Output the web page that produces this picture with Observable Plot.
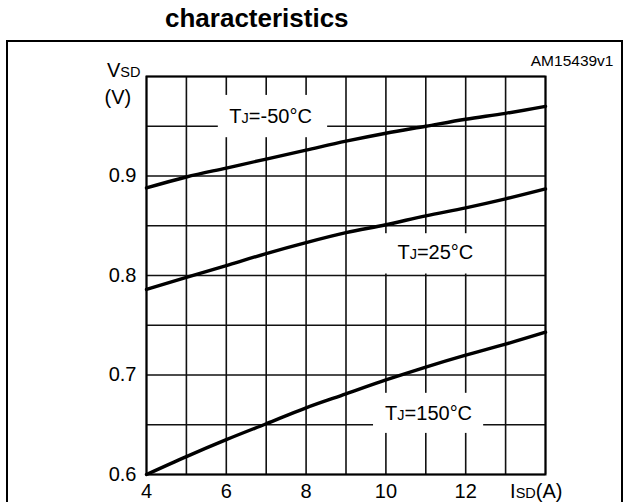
<!DOCTYPE html>
<html><head><meta charset="utf-8">
<script src="https://cdn.jsdelivr.net/npm/d3@7"></script>
<script src="https://cdn.jsdelivr.net/npm/@observablehq/plot@0.6"></script>
<style>
body{margin:0;background:#fff;font-family:"Liberation Sans",Arial,sans-serif;}
#title{height:40px;box-sizing:border-box;padding:2px 0 0 165px;font:bold 26px/32px "Liberation Sans",Arial,sans-serif;color:#000;}
#frame{margin-left:6px;width:613px;height:462px;border:2px solid #000;border-bottom:none;}
#frame svg{display:block}
</style></head><body>
<div id="title">characteristics</div>
<div id="frame"></div>
<script>
// Data
const isd = [4, 5, 6, 7, 8, 9, 10, 11, 12, 13, 14];
const vsdM50 = [0.888, 0.899, 0.908, 0.917, 0.926, 0.935, 0.943, 0.950, 0.957, 0.963, 0.970];
const vsd25  = [0.786, 0.798, 0.810, 0.822, 0.833, 0.843, 0.851, 0.860, 0.868, 0.877, 0.887];
const vsd150 = [0.600, 0.618, 0.635, 0.651, 0.667, 0.681, 0.695, 0.708, 0.720, 0.731, 0.743];
const seriesNames = ["-50", "25", "150"];

const xTicks = [4, 6, 8, 10, 12];
const yTicks = [0.6, 0.7, 0.8, 0.9];
const xGrid = [4, 5, 6, 7, 8, 9, 10, 11, 12, 13, 14];
const yGrid = [0.6, 0.65, 0.7, 0.75, 0.8, 0.85, 0.9, 0.95, 1.0];

const labelText = ["TJ=-50°C", "TJ=25°C", "TJ=150°C"];
const labelX = [7.11, 11.24, 11.07];
const labelV = [0.9597, 0.8227, 0.6615];
const boxX1 = [5.80, 9.61, 9.69];
const boxX2 = [8.54, 12.62, 12.45];
const boxV1 = [0.9385, 0.8015, 0.6413];
const boxV2 = [0.981, 0.842, 0.6816];

const rows = [];
[vsdM50, vsd25, vsd150].forEach((vals, k) =>
  vals.forEach((v, i) => rows.push({x: isd[i], y: v, s: seriesNames[k]})));
const labels = labelText.map((t, i) => ({t, x: labelX[i], y: labelV[i]}));
const boxes = labelText.map((t, i) => ({x1: boxX1[i], x2: boxX2[i], y1: boxV1[i], y2: boxV2[i]}));

const chart = Plot.plot({
  width: 613, height: 460,
  marginLeft: 138, marginRight: 76, marginTop: 34, marginBottom: 28,
  x: {domain: [4, 14]},
  y: {domain: [0.6, 1.0]},
  style: {fontFamily: "Liberation Sans, Arial, sans-serif", fontSize: "20px", color: "#000", background: "transparent", overflow: "visible"},
  marks: [
    Plot.ruleX(xGrid, {stroke: "#111", strokeWidth: 1.6, strokeOpacity: 1}),
    Plot.ruleY(yGrid, {stroke: "#111", strokeWidth: 1.6, strokeOpacity: 1}),
    Plot.rect(boxes, {x1: "x1", x2: "x2", y1: "y1", y2: "y2", fill: "white"}),
    Plot.frame({stroke: "#000", strokeWidth: 2}),
    Plot.line(rows, {x: "x", y: "y", z: "s", stroke: "#000", strokeWidth: 3.4, curve: "monotone-x"}),
    Plot.text(labels, {x: "x", y: "y", text: "t", fontSize: 20, lineAnchor: "middle", fill: "#000"}),
    Plot.axisX({ticks: xTicks, tickSize: 0, tickPadding: 9, fontSize: 20, label: null}),
    Plot.axisY({ticks: yTicks, tickSize: 0, tickPadding: 10, tickFormat: ".1f", fontSize: 20, label: null}),
    Plot.text(["VSD"], {frameAnchor: "top-left", textAnchor: "end", lineAnchor: "bottom", dx: -6, dy: 0, fontSize: 20}),
    Plot.text(["(V)"], {frameAnchor: "top-left", textAnchor: "start", lineAnchor: "bottom", dx: -42, dy: 27, fontSize: 20}),
    Plot.text(["ISD(A)"], {frameAnchor: "bottom-right", textAnchor: "end", lineAnchor: "bottom", dx: 17, dy: 23, fontSize: 20}),
    Plot.text(["AM15439v1"], {frameAnchor: "top-right", textAnchor: "end", lineAnchor: "bottom", dx: 68, dy: -11, fontSize: 15.5})
  ]
});

d3.select(chart).selectAll("text").each(function () {
  const t = this.textContent;
  const m = t.match(/^([TVI])(J|SD)(.*)$/);
  if (m) {
    const sel = d3.select(this);
    sel.text(null);
    sel.append("tspan").text(m[1]);
    sel.append("tspan").attr("font-size", "14.5px").text(m[2]);
    if (m[3]) sel.append("tspan").text(m[3]);
  }
});

document.getElementById("frame").appendChild(chart);
</script>
</body></html>
